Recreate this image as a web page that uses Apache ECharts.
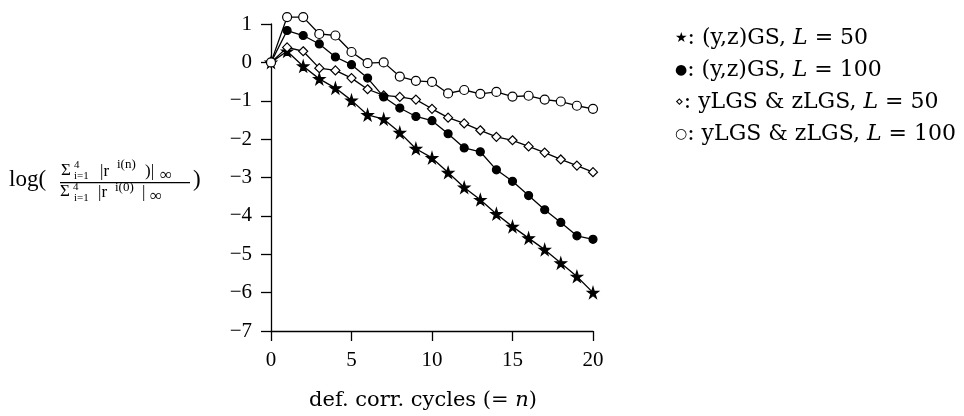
<!DOCTYPE html>
<html>
<head>
<meta charset="utf-8">
<script src="https://cdn.jsdelivr.net/npm/echarts@6/dist/echarts.min.js"></script>
<style>
  html, body { margin: 0; padding: 0; background: #fff; }
  #chart { width: 964px; height: 416px; }
</style>
</head>
<body>
<div id="chart"></div>
<script>
// def. corr. cycles n
const cycles = [0, 1, 2, 3, 4, 5, 6, 7, 8, 9, 10, 11, 12, 13, 14, 15, 16, 17, 18, 19, 20];
// star: (y,z)GS, L = 50
const ygsL50 = [0, 0.29, -0.10, -0.43, -0.67, -0.99, -1.37, -1.48, -1.83, -2.25, -2.49, -2.87, -3.26, -3.58, -3.95, -4.28, -4.58, -4.88, -5.23, -5.58, -6.00];
// filled circle: (y,z)GS, L = 100
const ygsL100 = [0, 0.83, 0.70, 0.48, 0.14, -0.06, -0.41, -0.90, -1.19, -1.41, -1.52, -1.86, -2.23, -2.33, -2.80, -3.10, -3.47, -3.84, -4.17, -4.52, -4.61];
// diamond: yLGS & zLGS, L = 50
const ylgsL50 = [0, 0.39, 0.29, -0.15, -0.21, -0.41, -0.70, -0.86, -0.90, -0.97, -1.21, -1.44, -1.59, -1.77, -1.94, -2.03, -2.19, -2.35, -2.53, -2.69, -2.86];
// open circle: yLGS & zLGS, L = 100
const ylgsL100 = [0, 1.18, 1.18, 0.74, 0.70, 0.27, -0.02, 0.0, -0.37, -0.48, -0.51, -0.81, -0.72, -0.82, -0.77, -0.89, -0.87, -0.97, -1.02, -1.13, -1.21];

const xTicks = [0, 5, 10, 15, 20];
const legendNames = ['(y,z)GS, ', '(y,z)GS, ', 'yLGS & zLGS, ', 'yLGS & zLGS, '];
const legendL = ['50', '100', '50', '100'];
const legendMarks = ['★', '●', '⋄', '○'];

const serif = '"Liberation Serif", "DejaVu Serif", serif';
const wide = '"DejaVu Serif", serif';
const starPath = 'path://M50,0 L61,35 L98,35 L68,57 L79,91 L50,70 L21,91 L32,57 L2,35 L39,35 Z';

function pairs(vals) {
  return cycles.map((c, i) => [c, vals[i]]);
}

function mkSeries(name, vals, symbol, size, fill) {
  return {
    name: name,
    type: 'line',
    data: pairs(vals),
    symbol: symbol,
    symbolSize: size,
    showSymbol: true,
    clip: false,
    lineStyle: { color: '#000', width: 1.3 },
    itemStyle: { color: fill, borderColor: '#000', borderWidth: 1.2 },
    emphasis: { disabled: true },
    animation: false
  };
}

// little helper for the stacked math label bits
function txt(x, y, s, size, fam) {
  return {
    type: 'text', x: x, y: y,
    style: { text: s, font: size + 'px ' + (fam || serif), fill: '#000', verticalAlign: 'middle' }
  };
}

const yLabel = [
  txt(9, 180, 'log(', 23),
  // numerator
  txt(61, 171, 'Σ', 17),
  txt(74, 165, '4', 11),
  txt(74, 176, 'i=1', 11),
  txt(100, 172, '|r', 17),
  txt(117, 165, 'i(n)', 13),
  txt(145, 172, ')|', 17),
  txt(160, 176, '∞', 17),
  { type: 'rect', shape: { x: 60, y: 182, width: 130, height: 1.2 }, style: { fill: '#000' } },
  // denominator
  txt(60, 192, 'Σ', 17),
  txt(73, 187, '4', 11),
  txt(74, 198, 'i=1', 11),
  txt(98, 193, '|r', 17),
  txt(115, 188, 'i(0)', 13),
  txt(142, 193, '|', 17),
  txt(150, 197, '∞', 17),
  txt(193, 180, ')', 23)
];

const legendItems = legendNames.map((n, i) => ({
  type: 'text', x: 675, y: 38 + i * 32,
  style: {
    text: '{m|' + legendMarks[i] + '}{t|: ' + n + '}{i|L}{t| = ' + legendL[i] + '}',
    verticalAlign: 'middle',
    rich: {
      m: { font: '14px "DejaVu Sans"', fill: '#000' },
      t: { font: '22px ' + wide, fill: '#000' },
      i: { font: 'italic 22px ' + wide, fill: '#000' }
    }
  }
}));

const chart = echarts.init(document.getElementById('chart'), null, { renderer: 'canvas' });
chart.setOption({
  backgroundColor: '#fff',
  animation: false,
  grid: { left: 271, right: 371, top: 24, bottom: 84 },
  xAxis: {
    type: 'value', min: 0, max: 20, interval: 5,
    axisLine: { onZero: false, lineStyle: { color: '#000', width: 1.3 } },
    axisTick: { length: 10, lineStyle: { color: '#000', width: 1.3 } },
    axisLabel: {
      color: '#000', fontFamily: serif, fontSize: 21, margin: 19,
      formatter: v => xTicks.indexOf(v) >= 0 ? String(v) : ''
    },
    splitLine: { show: false },
    name: '{a|def. corr. cycles (= }{i|n}{a|)}',
    nameLocation: 'middle', nameGap: 59,
    nameTextStyle: {
      padding: [0, 18, 0, 0],
      rich: {
        a: { fontFamily: wide, fontSize: 21, color: '#000' },
        i: { fontFamily: wide, fontSize: 21, fontStyle: 'italic', color: '#000' }
      }
    }
  },
  yAxis: {
    type: 'value', min: -7, max: 1, interval: 1,
    axisLine: { onZero: false, lineStyle: { color: '#000', width: 1.3 } },
    axisTick: { length: 10, lineStyle: { color: '#000', width: 1.3 } },
    axisLabel: {
      color: '#000', fontFamily: serif, fontSize: 21, margin: 19,
      formatter: v => String(v).replace('-', '\u2212')
    },
    splitLine: { show: false }
  },
  series: [
    mkSeries('ygsL50', ygsL50, starPath, 11, '#000'),
    mkSeries('ylgsL50', ylgsL50, 'diamond', 9, '#fff'),
    mkSeries('ygsL100', ygsL100, 'circle', 8, '#000'),
    mkSeries('ylgsL100', ylgsL100, 'circle', 9, '#fff')
  ],
  graphic: yLabel.concat(legendItems)
});
</script>
</body>
</html>
